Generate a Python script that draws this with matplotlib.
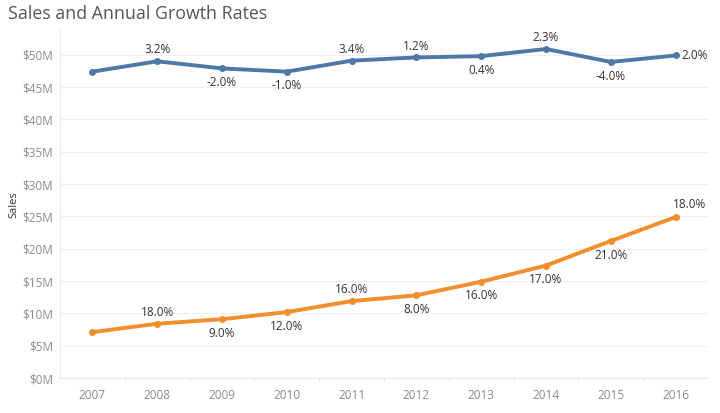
import matplotlib.pyplot as plt
from matplotlib.ticker import FuncFormatter, MultipleLocator

years = [2007, 2008, 2009, 2010, 2011, 2012, 2013, 2014, 2015, 2016]
sales_a = [47.4, 49.0, 47.9, 47.4, 49.1, 49.6, 49.8, 50.9, 48.9, 49.9]
growth_a = ["", "3.2%", "-2.0%", "-1.0%", "3.4%", "1.2%", "0.4%", "2.3%", "-4.0%", "2.0%"]
pos_a = ["", "up", "down", "down", "up", "up", "down", "up", "down", "right"]
sales_b = [7.1, 8.4, 9.1, 10.2, 11.9, 12.8, 14.9, 17.4, 21.2, 24.9]
growth_b = ["", "18.0%", "9.0%", "12.0%", "16.0%", "8.0%", "16.0%", "17.0%", "21.0%", "18.0%"]
pos_b = ["", "up", "down", "down", "up", "down", "down", "down", "down", "upright"]

blue = "#4e79a7"
orange = "#f28e2b"

plt.rcParams["font.family"] = ["Open Sans", "DejaVu Sans"]

fig = plt.figure(figsize=(7.2, 4.13), dpi=100)
ax = fig.add_axes([0.0833, 0.0847, 0.9, 0.842])

ax.plot(years, sales_a, color=blue, lw=2.8, marker="o", ms=4, solid_capstyle="round")
ax.plot(years, sales_b, color=orange, lw=2.8, marker="o", ms=4, solid_capstyle="round")

lab = dict(textcoords="offset points", fontsize=8.5, color="#333333")


def label(x, y, txt, where):
    if not txt:
        return
    if where == "up":
        ax.annotate(txt, (x, y), xytext=(0, 3.5), ha="center", va="bottom", **lab)
    elif where == "down":
        ax.annotate(txt, (x, y), xytext=(0, -5.5), ha="center", va="top", **lab)
    elif where == "right":
        ax.annotate(txt, (x, y), xytext=(4, 0), ha="left", va="center", **lab)
    else:
        ax.annotate(txt, (x, y), xytext=(-2, 4.5), ha="left", va="bottom", **lab)


for x, y, t, p in zip(years, sales_a, growth_a, pos_a):
    label(x, y, t, p)
for x, y, t, p in zip(years, sales_b, growth_b, pos_b):
    label(x, y, t, p)

ax.set_xlim(2006.5, 2016.5)
ax.set_ylim(0, 53.8)
ax.yaxis.set_major_locator(MultipleLocator(5))
ax.yaxis.set_major_formatter(FuncFormatter(lambda v, p: "$%dM" % v))
ax.set_xticks(years)
ax.set_xticks([y + 0.5 for y in years[:-1]], minor=True)
ax.tick_params(axis="x", which="major", length=0, pad=8, labelsize=8.5, labelcolor="#8a8a8a")
ax.tick_params(axis="x", which="minor", length=3, color="#e6e6e6", direction="out")
ax.tick_params(axis="y", length=0, pad=5, labelsize=8.5, labelcolor="#8a8a8a")
ax.get_yticklabels()[0].set_va("bottom")

ax.grid(axis="y", color="#f0f0f0", lw=0.8)
ax.set_axisbelow(True)
for s in ["top", "right"]:
    ax.spines[s].set_visible(False)
ax.spines["left"].set_color("#ececec")
ax.spines["bottom"].set_color("#e6e6e6")

ax.set_ylabel("Sales", fontsize=8, color="#333333")
ax.yaxis.set_label_coords(-0.062, 0.5)
fig.text(0.011, 0.965, "Sales and Annual Growth Rates", fontsize=12.8, color="#555555", ha="left", va="center")

plt.savefig("out.png")
